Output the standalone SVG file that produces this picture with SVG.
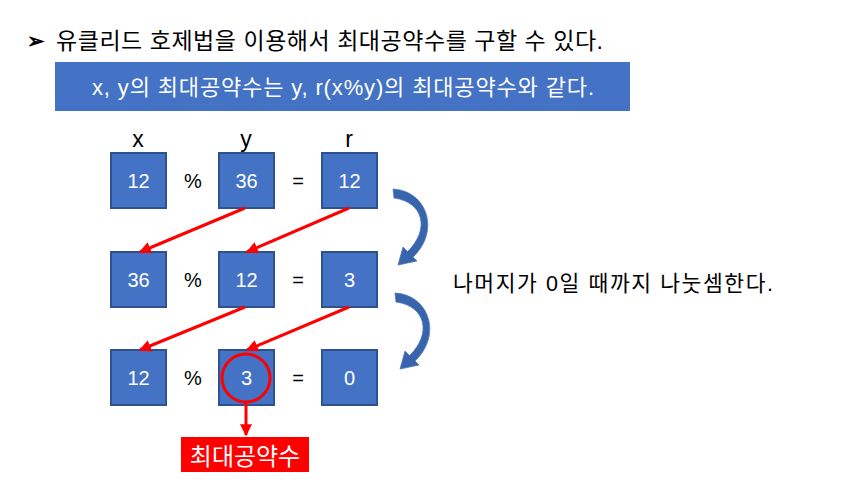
<svg xmlns="http://www.w3.org/2000/svg" width="868" height="499" viewBox="0 0 868 499">
<style>
.t{font-family:"Liberation Sans","Noto Sans CJK KR",sans-serif;}
.box{fill:#4472C4;stroke:#2F528F;stroke-width:2;}
.num{font-family:"Liberation Sans",Arial,sans-serif;font-size:20px;fill:#fff;text-anchor:middle;}
.op{font-family:"Liberation Sans",Arial,sans-serif;font-size:20px;fill:#000;text-anchor:middle;}
.lbl{font-family:"Liberation Sans",Arial,sans-serif;font-size:23px;fill:#000;text-anchor:middle;}
.red{stroke:#FF0000;stroke-width:3;fill:none;}
.curv{fill:#3864AC;stroke:#4C78BC;stroke-width:0.8;}
</style>
<defs>
<marker id="ah" viewBox="0 0 10 10" refX="9" refY="5" markerWidth="4" markerHeight="4" orient="auto" markerUnits="strokeWidth">
<path d="M0,0 L10,5 L0,10 Z" fill="#FF0000"/>
</marker>
<path id="carrow" d="M393,189 C428,191 440,232 413,257 L417,261 L398,265 L403,247 L407.5,251.5 C430,230 424,202 394,198 Z"/>
</defs>
<rect width="868" height="499" fill="#fff"/>
<g id="header">
<text x="27" y="48" font-family="DejaVu Sans,sans-serif" font-size="21" font-weight="bold" fill="#000" stroke="#000" stroke-width="0.8">➢</text>
<text x="56" y="49" class="t" font-size="23" fill="#000" textLength="547" lengthAdjust="spacing">유클리드 호제법을 이용해서 최대공약수를 구할 수 있다.</text>
</g>
<g id="banner">
<rect x="55" y="62" width="575" height="49" fill="#4472C4"/>
<text x="343" y="95" class="t" font-size="22" fill="#fff" text-anchor="middle" textLength="502" lengthAdjust="spacing">x, y의 최대공약수는 y, r(x%y)의 최대공약수와 같다.</text>
</g>
<g id="col-labels">
<text x="138" y="147" class="lbl">x</text>
<text x="246" y="147" class="lbl">y</text>
<text x="349" y="147" class="lbl">r</text>
</g>
<g id="row1">
<g id="r1x"><rect class="box" x="111" y="153" width="55" height="55"/><text class="num" x="138.5" y="188">12</text></g>
<text class="op" x="193" y="188">%</text>
<g id="r1y"><rect class="box" x="219" y="153" width="55" height="55"/><text class="num" x="246.5" y="188">36</text></g>
<text class="op" x="298" y="188">=</text>
<g id="r1r"><rect class="box" x="322" y="153" width="55" height="55"/><text class="num" x="349.5" y="188">12</text></g>
</g>
<g id="row2">
<g id="r2x"><rect class="box" x="111" y="252" width="55" height="55"/><text class="num" x="138.5" y="287">36</text></g>
<text class="op" x="193" y="287">%</text>
<g id="r2y"><rect class="box" x="219" y="252" width="55" height="55"/><text class="num" x="246.5" y="287">12</text></g>
<text class="op" x="298" y="287">=</text>
<g id="r2r"><rect class="box" x="322" y="252" width="55" height="55"/><text class="num" x="349.5" y="287">3</text></g>
</g>
<g id="row3">
<g id="r3x"><rect class="box" x="111" y="350" width="55" height="55"/><text class="num" x="138.5" y="385">12</text></g>
<text class="op" x="193" y="385">%</text>
<g id="r3y"><rect class="box" x="219" y="350" width="55" height="55"/><text class="num" x="246.5" y="385">3</text></g>
<text class="op" x="298" y="385">=</text>
<g id="r3r"><rect class="box" x="322" y="350" width="55" height="55"/><text class="num" x="349.5" y="385">0</text></g>
</g>
<g id="connectors">
<line class="red" x1="245" y1="208" x2="140" y2="252" marker-end="url(#ah)"/>
<line class="red" x1="349" y1="208" x2="247" y2="252" marker-end="url(#ah)"/>
<line class="red" x1="245" y1="307" x2="140" y2="350" marker-end="url(#ah)"/>
<line class="red" x1="349" y1="307" x2="247" y2="350" marker-end="url(#ah)"/>
<circle class="red" cx="246" cy="378" r="24" stroke-width="2.5"/>
<line class="red" x1="246" y1="402" x2="246" y2="435" stroke-width="2" marker-end="url(#ah)"/>
<use href="#carrow" class="curv"/>
<use href="#carrow" class="curv" transform="translate(2,104)"/>
</g>
<g id="gcd-label">
<rect x="181" y="437" width="128" height="35" fill="#FF0000"/>
<text x="245" y="465" class="t" font-size="24" fill="#fff" text-anchor="middle">최대공약수</text>
</g>
<g id="note">
<text x="453" y="291" class="t" font-size="21.5" fill="#000" textLength="320" lengthAdjust="spacing">나머지가 0일 때까지 나눗셈한다.</text>
</g>
</svg>
